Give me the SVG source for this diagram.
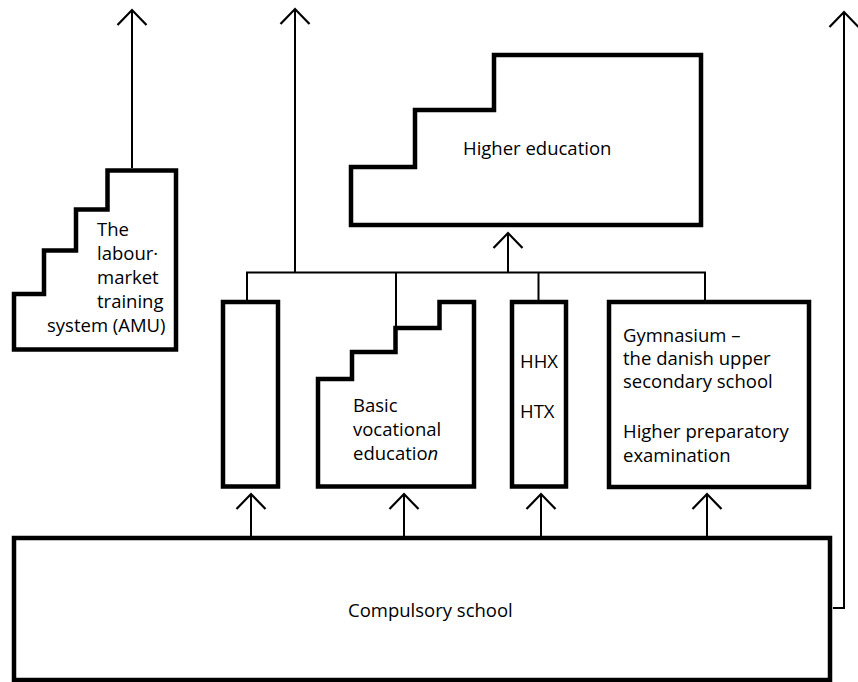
<svg xmlns="http://www.w3.org/2000/svg" width="858" height="682" viewBox="0 0 858 682">
  <defs>
    <!-- open V arrowhead, drawn in user units -->
    <marker id="arrow" markerUnits="userSpaceOnUse" orient="auto" refX="0" refY="0" markerWidth="40" markerHeight="40" overflow="visible">
      <path d="M-15,-14.5 L0,0 L-15,14.5" fill="none" stroke="#000" stroke-width="2.2" stroke-linejoin="miter"/>
    </marker>
  </defs>
  <style>
    .box { fill: #fff; stroke: #000; stroke-width: 4.5; stroke-linejoin: miter; }
    .link { fill: none; stroke: #000; stroke-width: 2; }
    .arr { fill: none; stroke: #000; stroke-width: 2; marker-end: url(#arrow); }
    text { font-family: "Open Sans", "Liberation Sans", sans-serif; font-size: 18.5px; fill: #000; }
  </style>
  <rect width="858" height="682" fill="#fff"/>

  <!-- connectors -->
  <g id="connectors">
    <!-- distribution bus above the youth education boxes -->
    <path class="link" d="M247,300 V272.5 H705 V300"/>
    <path class="link" d="M396,272.5 V326"/>
    <path class="link" d="M538.5,272.5 V300"/>
    <!-- outgoing arrows to the labour market -->
    <path class="arr" d="M132,168 V10"/>
    <path class="arr" d="M295,272.5 V9"/>
    <path class="arr" d="M833,608 H844 V12"/>
    <!-- into higher education -->
    <path class="arr" d="M508,272.5 V233"/>
    <!-- from compulsory school -->
    <path class="arr" d="M251,538 V494"/>
    <path class="arr" d="M404,538 V494"/>
    <path class="arr" d="M541,538 V494"/>
    <path class="arr" d="M707,538 V494"/>
  </g>

  <g id="amu">
    <path class="box" d="M107.5,170.5 H176 V349.5 H14 V294 H44 V250.5 H76 V209.5 H107.5 Z"/>
    <text x="97" y="236">The</text>
    <text x="97" y="260">labour·</text>
    <text x="97" y="284">market</text>
    <text x="97" y="308">training</text>
    <text x="47" y="332">system (AMU)</text>
  </g>

  <g id="higher-education">
    <path class="box" d="M494,55 H701 V225 H351 V167 H415 V110 H494 Z"/>
    <text x="463" y="155">Higher education</text>
  </g>

  <g id="unnamed-box">
    <rect class="box" x="223" y="302" width="55" height="184.5"/>
  </g>

  <g id="basic-vocational">
    <path class="box" d="M439.5,302 H474 V486.5 H318 V379 H352 V352 H395.5 V328 H439.5 Z"/>
    <text x="353" y="412">Basic</text>
    <text x="353" y="436">vocational</text>
    <text x="353" y="460">educatio<tspan font-style="italic">n</tspan></text>
  </g>

  <g id="hhx-htx">
    <rect class="box" x="512" y="302" width="54" height="184.5"/>
    <text x="520" y="368">HHX</text>
    <text x="520" y="418">HTX</text>
  </g>

  <g id="gymnasium">
    <rect class="box" x="609" y="302" width="200" height="185"/>
    <text x="623" y="342">Gymnasium –</text>
    <text x="623" y="365">the danish upper</text>
    <text x="623" y="388">secondary school</text>
    <text x="623" y="438">Higher preparatory</text>
    <text x="623" y="462">examination</text>
  </g>

  <g id="compulsory-school">
    <rect class="box" x="14" y="538" width="816" height="142"/>
    <text x="348" y="617">Compulsory school</text>
  </g>
</svg>
